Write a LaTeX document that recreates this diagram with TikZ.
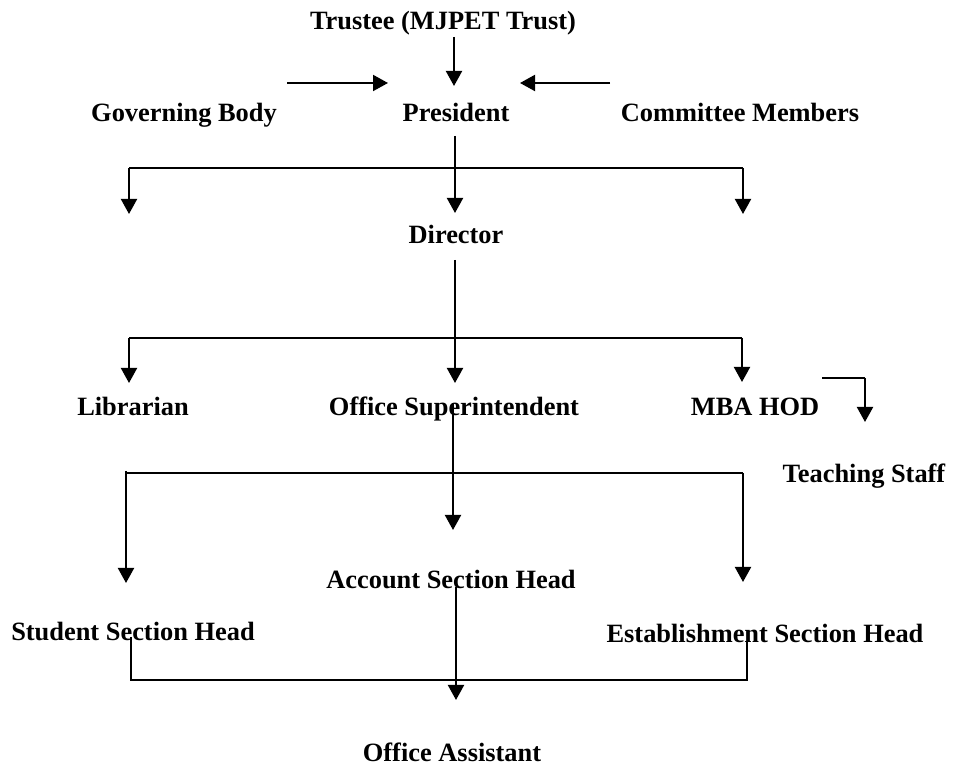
\documentclass[tikz,border=0pt]{standalone}
\usepackage{fontspec}
\setmainfont{Liberation Serif}
\usetikzlibrary{arrows.meta}
\begin{document}
\begin{tikzpicture}[x=0.5pt,y=-0.5pt,
  lbl/.style={anchor=base,inner sep=0pt,font=\fontsize{13.2}{15}\selectfont\bfseries},
  arr/.style={line width=1pt,-{Triangle[length=7.5pt,width=8pt]}},
  ln/.style={line width=0.75pt},
]
\useasboundingbox (0,0) rectangle (954,769);
% text nodes
\node[lbl] (trustee) at (443,30) {Trustee (MJPET Trust)};
\node[lbl] (gov) at (184,122) {Governing Body};
\node[lbl] (pres) at (456,122) {President};
\node[lbl] (comm) at (740,122) {Committee Members};
\node[lbl] (dir) at (456,244) {Director};
\node[lbl] (lib) at (133,416) {Librarian};
\node[lbl] (osup) at (454,416) {Office Superintendent};
\node[lbl] (mba) at (755,416) {MBA HOD};
\node[lbl] (teach) at (864,483) {Teaching Staff};
\node[lbl] (acc) at (451,589) {Account Section Head};
\node[lbl] (stu) at (133,641) {Student Section Head};
\node[lbl] (est) at (765,643) {Establishment Section Head};
\node[lbl] (oa) at (452,762) {Office Assistant};
% connector points
\coordinate (t1) at (454,37);  \coordinate (t2) at (454,86);
\coordinate (g1) at (287,83);  \coordinate (g2) at (388,83);
\coordinate (c1) at (610,83);  \coordinate (c2) at (520,83);
\coordinate (p1) at (455,136); \coordinate (p2) at (455,213);
\coordinate (h1l) at (129,168); \coordinate (h1r) at (743,168);
\coordinate (h1lt) at (129,214); \coordinate (h1rt) at (743,214);
\coordinate (d1) at (455,260); \coordinate (d2) at (455,383);
\coordinate (h2l) at (129,338); \coordinate (h2r) at (742,338);
\coordinate (h2lt) at (129,383); \coordinate (h2rt) at (742,382);
\coordinate (m1) at (822,378); \coordinate (m2) at (865,378); \coordinate (m3) at (865,422);
\coordinate (o1) at (453,403); \coordinate (o2) at (453,530);
\coordinate (h3l) at (126,473); \coordinate (h3r) at (743,473);
\coordinate (h3ls) at (126,471);
\coordinate (h3lt) at (126,583); \coordinate (h3rt) at (743,582);
\coordinate (a1) at (456,587); \coordinate (a2) at (456,700);
\coordinate (b1) at (131,637); \coordinate (b2) at (131,680);
\coordinate (b3) at (747,680); \coordinate (b4) at (747,642);
% connectors
\draw[arr] (t1) -- (t2);
\draw[arr] (g1) -- (g2);
\draw[arr] (c1) -- (c2);
\draw[arr] (p1) -- (p2);
\draw[ln] (h1l) -- (h1r);
\draw[arr] (h1l) -- (h1lt);
\draw[arr] (h1r) -- (h1rt);
\draw[arr] (d1) -- (d2);
\draw[ln] (h2l) -- (h2r);
\draw[arr] (h2l) -- (h2lt);
\draw[arr] (h2r) -- (h2rt);
\draw[ln] (m1) -- (m2);
\draw[arr] (m2) -- (m3);
\draw[arr] (o1) -- (o2);
\draw[ln] (h3l) -- (h3r);
\draw[arr] (h3ls) -- (h3lt);
\draw[arr] (h3r) -- (h3rt);
\draw[arr] (a1) -- (a2);
\draw[ln] (b1) -- (b2) -- (b3) -- (b4);
\end{tikzpicture}
\end{document}
